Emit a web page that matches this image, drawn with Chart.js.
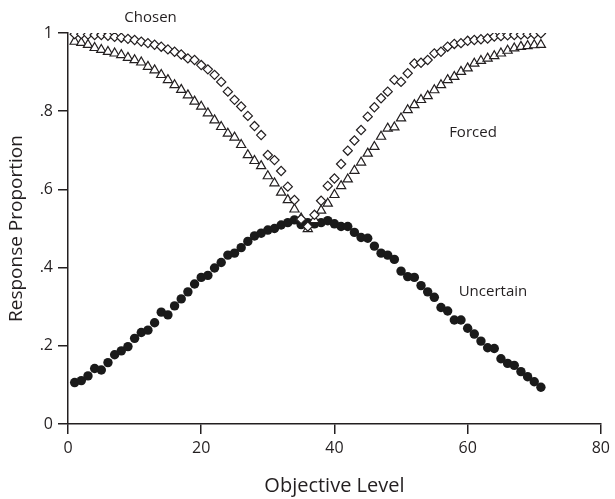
<!DOCTYPE html>
<html>
<head>
<meta charset="utf-8">
<script src="https://cdn.jsdelivr.net/npm/chart.js@4.4.1/dist/chart.umd.min.js"></script>
<style>
  html, body { margin: 0; padding: 0; background: #fff; }
  #wrap { width: 615px; height: 499px; }
</style>
</head>
<body>
<div id="wrap"><canvas id="c" width="615" height="499"></canvas></div>
<script>
const levels = [1,2,3,4,5,6,7,8,9,10,11,12,13,14,15,16,17,18,19,20,21,22,23,24,25,26,27,28,29,30,31,32,33,34,35,36,37,38,39,40,41,42,43,44,45,46,47,48,49,50,51,52,53,54,55,56,57,58,59,60,61,62,63,64,65,66,67,68,69,70,71];

const chosen = [0.997,0.997,0.996,0.995,0.995,0.993,0.990,0.988,0.985,0.982,0.978,0.974,0.970,0.965,0.958,0.952,0.945,0.935,0.931,0.918,
  0.907,0.893,0.875,0.850,0.829,0.812,0.788,0.762,0.739,0.688,0.675,0.647,0.607,0.573,0.524,0.505,0.535,0.571,0.609,0.628,
  0.665,0.699,0.725,0.752,0.786,0.810,0.833,0.850,0.880,0.875,0.897,0.922,0.924,0.931,0.948,0.952,0.965,0.972,0.974,0.980,
  0.982,0.984,0.986,0.991,0.992,0.994,0.995,0.996,0.997,0.997,0.999];

const forced = [0.978,0.975,0.970,0.962,0.957,0.952,0.948,0.944,0.937,0.931,0.925,0.914,0.905,0.893,0.880,0.867,0.855,0.841,0.825,0.812,
  0.795,0.777,0.760,0.743,0.733,0.714,0.688,0.673,0.660,0.634,0.616,0.592,0.573,0.549,0.526,0.499,0.522,0.546,0.564,0.586,
  0.609,0.626,0.648,0.669,0.692,0.709,0.735,0.756,0.759,0.782,0.803,0.816,0.829,0.839,0.854,0.867,0.880,0.888,0.901,0.910,
  0.922,0.929,0.935,0.941,0.948,0.955,0.961,0.965,0.967,0.969,0.970];

const uncertain = [0.106,0.111,0.123,0.142,0.138,0.157,0.177,0.187,0.198,0.219,0.234,0.240,0.259,0.286,0.279,0.302,0.320,0.338,0.358,0.375,
  0.380,0.399,0.413,0.432,0.437,0.451,0.467,0.481,0.488,0.496,0.500,0.509,0.515,0.522,0.510,0.515,0.512,0.515,0.520,0.512,
  0.505,0.505,0.490,0.477,0.475,0.455,0.437,0.432,0.421,0.391,0.377,0.375,0.354,0.338,0.324,0.298,0.289,0.266,0.266,0.245,
  0.230,0.212,0.195,0.193,0.167,0.155,0.150,0.134,0.121,0.108,0.094];

const xTicks = [0, 20, 40, 60, 80];
const yTicks = [0, 0.2, 0.4, 0.6, 0.8, 1];
const yTickLabels = ['0', '.2', '.4', '.6', '.8', '1'];

const seriesLabels = [
  { text: 'Chosen', x: 12.4, y: 1.038 },
  { text: 'Forced', x: 60.8, y: 0.746 },
  { text: 'Uncertain', x: 63.8, y: 0.338 }
];

const FONT = "'Open Sans', 'Noto Sans', sans-serif";
const INK = '#231f20';

function pts(ys) { return levels.map((x, i) => ({ x: x, y: ys[i] })); }

const labelPlugin = {
  id: 'seriesLabels',
  afterDatasetsDraw(chart) {
    const ctx = chart.ctx;
    const xs = chart.scales.x, ys = chart.scales.y;
    ctx.save();
    ctx.fillStyle = INK;
    ctx.font = "15px " + FONT;
    ctx.textAlign = 'center';
    ctx.textBaseline = 'middle';
    seriesLabels.forEach(l => {
      ctx.fillText(l.text, xs.getPixelForValue(l.x), ys.getPixelForValue(l.y));
    });
    ctx.restore();
  }
};

new Chart(document.getElementById('c'), {
  type: 'scatter',
  data: {
    datasets: [
      { label: 'Chosen', data: pts(chosen), pointStyle: 'rectRot', pointRadius: 4.6,
        backgroundColor: '#ffffff', borderColor: INK, borderWidth: 1.2, showLine: false },
      { label: 'Forced', data: pts(forced), pointStyle: 'triangle', pointRadius: 5.3,
        backgroundColor: '#ffffff', borderColor: INK, borderWidth: 1.2, showLine: false },
      { label: 'Uncertain', data: pts(uncertain), pointStyle: 'circle', pointRadius: 4.7,
        backgroundColor: '#1a1a1a', borderColor: '#1a1a1a', borderWidth: 0, showLine: false }
    ]
  },
  options: {
    responsive: false,
    animation: false,
    devicePixelRatio: 1,
    layout: { padding: { left: 0, right: 12, top: 33, bottom: 0 } },
    plugins: { legend: { display: false }, tooltip: { enabled: false } },
    scales: {
      x: {
        type: 'linear', min: 0, max: 80,
        afterBuildTicks(s) { s.ticks = xTicks.map(v => ({ value: v })); },
        afterFit(s) { s.height = 75; },
        border: { display: true, color: INK, width: 1.5 },
        grid: { display: true, drawOnChartArea: false, drawTicks: true, tickLength: 10, color: INK, lineWidth: 1.5 },
        ticks: { color: INK, font: { family: FONT, size: 16 }, padding: 5, maxRotation: 0 },
        title: { display: true, text: 'Objective Level', color: INK, font: { family: FONT, size: 20 }, padding: { top: 0, bottom: 1 } }
      },
      y: {
        type: 'linear', min: 0, max: 1,
        afterBuildTicks(s) { s.ticks = yTicks.map(v => ({ value: v })); },
        afterFit(s) { s.width = 68; },
        border: { display: true, color: INK, width: 1.5 },
        grid: { display: true, drawOnChartArea: false, drawTicks: true, tickLength: 10, color: INK, lineWidth: 1.5 },
        ticks: { color: INK, font: { family: FONT, size: 16 }, padding: 5,
          callback: (v) => { const i = yTicks.indexOf(v); return i >= 0 ? yTickLabels[i] : ''; } },
        title: { display: true, text: 'Response Proportion', color: INK, font: { family: FONT, size: 19 }, padding: { top: 5, bottom: 0 } }
      }
    }
  },
  plugins: [labelPlugin]
});
</script>
</body>
</html>
